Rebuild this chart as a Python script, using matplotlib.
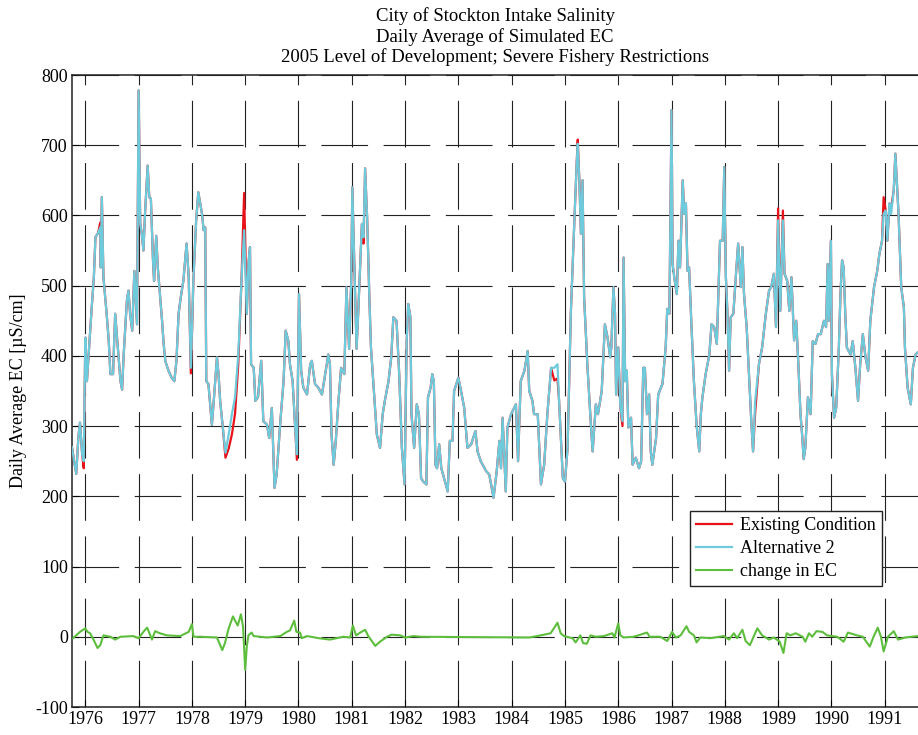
import matplotlib
matplotlib.use("Agg")
import matplotlib.pyplot as plt

# ---------------- data ----------------
dates = [
 1975.75,1975.79,1975.83,1975.87,1975.90,1975.94,1975.97,1976.00,1976.03,1976.12,
 1976.16,1976.19,1976.24,1976.28,1976.29,1976.31,1976.34,1976.40,1976.44,1976.47,
 1976.52,1976.56,1976.59,1976.62,1976.66,1976.69,1976.72,1976.78,1976.81,1976.84,
 1976.88,1976.92,1976.97,1977.00,1977.03,1977.06,1977.09,1977.12,1977.17,1977.20,
 1977.23,1977.27,1977.29,1977.33,1977.36,1977.39,1977.44,1977.47,1977.50,1977.56,
 1977.62,1977.67,1977.71,1977.75,1977.79,1977.84,1977.90,1977.94,1977.98,1978.03,
 1978.08,1978.12,1978.19,1978.22,1978.25,1978.27,1978.31,1978.375,1978.41,1978.47,
 1978.50,1978.53,1978.58,1978.63,1978.69,1978.75,1978.81,1978.87,1978.93,1978.98,
 1979.03,1979.06,1979.09,1979.11,1979.16,1979.19,1979.24,1979.30,1979.34,1979.41,
 1979.45,1979.50,1979.55,1979.59,1979.66,1979.72,1979.76,1979.81,1979.84,1979.89,
 1979.94,1979.97,1980.01,1980.05,1980.09,1980.16,1980.22,1980.25,1980.31,1980.37,
 1980.44,1980.50,1980.56,1980.59,1980.62,1980.66,1980.70,1980.75,1980.80,1980.86,
 1980.90,1980.95,1980.99,1981.01,1981.05,1981.09,1981.12,1981.19,1981.22,1981.25,
 1981.29,1981.33,1981.36,1981.41,1981.47,1981.53,1981.58,1981.62,1981.69,1981.74,
 1981.78,1981.84,1981.89,1981.94,1981.99,1982.03,1982.06,1982.10,1982.12,1982.17,
 1982.22,1982.26,1982.30,1982.34,1982.40,1982.43,1982.48,1982.51,1982.54,1982.57,
 1982.60,1982.64,1982.68,1982.80,1982.84,1982.89,1982.92,1983.00,1983.05,1983.11,
 1983.17,1983.24,1983.32,1983.36,1983.42,1983.52,1983.58,1983.66,1983.72,1983.77,
 1983.80,1983.83,1983.89,1983.92,1983.99,1984.08,1984.12,1984.17,1984.24,1984.30,
 1984.33,1984.39,1984.42,1984.49,1984.55,1984.61,1984.67,1984.74,1984.80,1984.86,
 1984.89,1984.96,1985.00,1985.05,1985.11,1985.17,1985.22,1985.24,1985.27,1985.30,
 1985.33,1985.36,1985.42,1985.49,1985.52,1985.58,1985.62,1985.69,1985.75,1985.80,
 1985.85,1985.87,1985.91,1985.94,1985.96,1986.00,1986.04,1986.08,1986.10,1986.13,
 1986.16,1986.19,1986.24,1986.27,1986.33,1986.39,1986.43,1986.47,1986.50,1986.54,
 1986.58,1986.61,1986.64,1986.71,1986.75,1986.83,1986.89,1986.92,1986.96,1987.00,
 1987.02,1987.06,1987.10,1987.13,1987.16,1987.21,1987.24,1987.27,1987.30,1987.33,
 1987.37,1987.42,1987.47,1987.52,1987.55,1987.58,1987.64,1987.71,1987.75,1987.80,
 1987.85,1987.91,1987.96,1987.99,1988.02,1988.05,1988.08,1988.11,1988.16,1988.21,
 1988.25,1988.30,1988.33,1988.36,1988.41,1988.46,1988.50,1988.53,1988.57,1988.64,
 1988.70,1988.77,1988.83,1988.87,1988.92,1988.96,1989.00,1989.04,1989.09,1989.12,
 1989.17,1989.21,1989.25,1989.30,1989.34,1989.38,1989.42,1989.45,1989.48,1989.51,
 1989.56,1989.61,1989.65,1989.70,1989.75,1989.80,1989.86,1989.90,1989.93,1989.95,
 1989.99,1990.01,1990.05,1990.09,1990.14,1990.17,1990.20,1990.23,1990.26,1990.29,
 1990.36,1990.40,1990.45,1990.50,1990.54,1990.59,1990.64,1990.69,1990.73,1990.80,
 1990.86,1990.90,1990.95,1990.98,1991.02,1991.05,1991.09,1991.12,1991.17,1991.20,
 1991.23,1991.26,1991.31,1991.36,1991.38,1991.43,1991.49,1991.53,1991.58,1991.62]

alt2_ec = [
 270,250,232,285,305,260,250,426,364,469,
 512,569,575,583,526,626,512,460,421,374,
 374,460,431,402,364,352,402,479,493,460,
 436,521,445,778,588,574,550,602,671,626,
 624,536,507,571,526,498,450,417,393,379,
 369,364,393,460,483,507,560,512,383,512,
 593,633,602,579,583,364,360,302,336,398,
 374,336,298,262,288,317,341,402,507,579,
 460,531,555,388,383,336,341,393,307,302,
 283,326,212,231,307,364,436,421,388,364,
 295,260,488,379,355,345,388,393,360,355,
 345,374,402,388,288,245,279,336,383,374,
 498,410,507,640,526,410,460,588,569,667,
 593,483,412,355,288,269,317,336,364,398,
 455,450,374,269,217,421,474,455,317,269,
 331,317,226,221,217,341,355,374,364,245,
 240,274,240,207,279,279,350,369,350,326,
 269,274,293,264,250,236,231,198,236,279,
 240,312,207,298,317,331,250,364,379,407,
 350,336,317,317,217,245,317,383,383,388,
 336,226,221,269,460,579,674,702,650,574,
 650,483,388,298,264,331,317,350,445,426,
 398,412,498,460,345,412,326,307,540,364,
 379,298,312,245,255,240,250,383,383,317,
 345,264,245,283,345,360,412,467,460,750,
 531,507,488,564,526,650,602,617,521,526,
 450,364,302,264,317,341,374,402,445,441,
 417,564,564,669,512,460,379,455,460,517,
 560,498,555,488,441,364,302,264,336,388,
 412,460,493,498,517,441,593,464,593,517,
 507,464,512,422,450,388,317,288,253,269,
 341,317,421,417,431,431,450,441,531,450,
 564,374,312,326,412,488,536,526,460,412,
 402,421,383,336,388,431,398,379,450,498,
 521,545,564,602,607,564,617,602,636,688,
 645,602,498,469,412,355,331,383,402,405]

# Existing Condition equals Alternative 2 except at these dates
existing_overrides = {
 1975.97: 240, 1976.28: 590, 1977.98: 375, 1978.63: 255, 1978.69: 268,
 1978.75: 288, 1978.81: 318, 1978.87: 388, 1978.98: 632, 1979.97: 252,
 1981.22: 560, 1984.80: 365, 1984.86: 368, 1985.24: 708, 1986.08: 300,
 1988.57: 320, 1989.00: 610, 1989.09: 607, 1990.98: 626, 1991.12: 610}

change_dates = [
 1975.77,1975.90,1976.00,1976.04,1976.09,1976.16,1976.23,1976.28,1976.34,1976.47,
 1976.56,1976.66,1976.90,1977.00,1977.09,1977.16,1977.22,1977.25,1977.31,1977.40,
 1977.53,1977.78,1977.94,1978.00,1978.03,1978.16,1978.47,1978.53,1978.57,1978.62,
 1978.69,1978.77,1978.81,1978.86,1978.92,1978.96,1979.00,1979.03,1979.06,1979.12,
 1979.16,1979.41,1979.66,1979.78,1979.84,1979.92,1979.96,1980.03,1980.06,1980.16,
 1980.38,1980.59,1980.84,1980.97,1981.02,1981.08,1981.16,1981.25,1981.31,1981.44,
 1981.53,1981.66,1981.75,1981.91,1982.00,1982.16,1982.30,1984.33,1984.48,1984.73,
 1984.81,1984.86,1984.92,1984.98,1985.14,1985.20,1985.29,1985.34,1985.41,1985.48,
 1985.58,1985.73,1985.89,1985.93,1986.00,1986.04,1986.10,1986.29,1986.54,1986.59,
 1986.79,1986.92,1987.01,1987.08,1987.17,1987.28,1987.33,1987.42,1987.47,1987.54,
 1987.73,1987.98,1988.08,1988.17,1988.23,1988.33,1988.39,1988.47,1988.54,1988.61,
 1988.70,1988.83,1988.92,1989.03,1989.10,1989.16,1989.23,1989.33,1989.46,1989.51,
 1989.58,1989.64,1989.72,1989.83,1989.92,1990.01,1990.11,1990.23,1990.31,1990.48,
 1990.59,1990.72,1990.79,1990.87,1990.93,1990.98,1991.06,1991.17,1991.25,1991.39,
 1991.62]

change_ec = [
 -2,7,12,7,5,-5,-16,-12,2,0,
 -4,0,1,-2,7,13,2,-4,8,5,
 2,1,7,18,0,0,-1,-12,-19,-9,
 12,29,23,16,32,14,-47,-14,2,6,
 1,-1,1,7,9,23,7,6,-2,1,
 -2,-4,0,-1,16,2,6,10,1,-13,
 -7,0,3,2,-1,1,0,-1,1,5,
 14,20,5,1,-2,-8,2,-9,-10,2,
 0,1,5,-1,19,2,-1,0,6,0,
 0,-6,7,-1,2,15,7,2,-8,-1,
 -2,1,-4,5,-2,10,-6,-12,0,12,
 2,-4,-1,-7,-23,5,2,5,0,-7,
 5,0,8,7,2,1,0,-7,6,2,
 0,-14,0,13,0,-21,0,8,-4,-1,
 1]

year_ticks = list(range(1976, 1992))
ec_ticks = list(range(-100, 801, 100))
title_lines = ["City of Stockton Intake Salinity",
               "Daily Average of Simulated EC",
               "2005 Level of Development; Severe Fishery Restrictions"]
series_names = ["Existing Condition", "Alternative 2", "change in EC"]
y_label = "Daily Average EC [\u00b5S/cm]"

existing_ec = [existing_overrides.get(d, v) for d, v in zip(dates, alt2_ec)]

# ---------------- figure ----------------
plt.rcParams['font.family'] = ['Liberation Serif', 'DejaVu Serif']
plt.rcParams['axes.unicode_minus'] = False

fig = plt.figure(figsize=(9.18, 7.35), dpi=100)
ax = fig.add_axes([72/918, 1-707/735, 1-72/918, (707-75)/735])

ax.plot(dates, existing_ec, color='#E8121B', lw=1.6, label=series_names[0], zorder=3)
ax.plot(dates, alt2_ec, color='#6ECBDC', lw=1.6, label=series_names[1], zorder=4)
ax.plot(change_dates, change_ec, color='#5DBE3D', lw=1.5, label=series_names[2], zorder=5)

ax.set_xlim(1975.75, 1991.625)
ax.set_ylim(-100, 800)
ax.set_xticks(year_ticks)
ax.set_xticklabels([str(y) for y in year_ticks])
ax.set_yticks(ec_ticks)
ax.set_yticklabels([str(v) for v in ec_ticks])

ax.grid(True, color='#222222', lw=0.8, linestyle=(0, (42, 14)))
ax.tick_params(direction='in', length=5, width=0.8, labelsize=13, pad=3,
               top=False, right=False)
for s in ['left', 'bottom', 'top']:
    ax.spines[s].set_linewidth(1.1)
    ax.spines[s].set_color('#222222')
ax.spines['right'].set_visible(False)

ax.set_title("\n".join(title_lines), fontsize=13.5, linespacing=1.22, pad=9)
ax.set_ylabel(y_label, fontsize=13, labelpad=6)

leg = ax.legend(loc='upper left', bbox_to_anchor=((690-72)/846, (707-511)/632),
                borderaxespad=0, fontsize=13, handlelength=2.0, handletextpad=0.4,
                labelspacing=0.32, borderpad=0.35, fancybox=False, framealpha=1,
                edgecolor='#222222')
leg.get_frame().set_linewidth(1.0)

fig.savefig("out.png", dpi=100)
